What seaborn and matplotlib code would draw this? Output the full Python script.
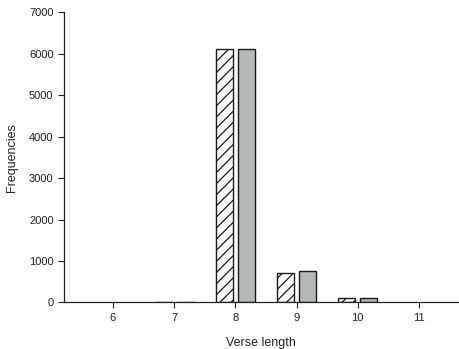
import pandas as pd
import matplotlib
matplotlib.use('Agg')
import matplotlib.pyplot as plt
import seaborn as sns

# values
verse_lengths = ['6', '7', '8', '9', '10', '11']
observed = [0, 12, 6120, 715, 110, 0]
expected = [0, 14, 6120, 745, 110, 0]

df = pd.DataFrame({
    'length': verse_lengths * 2,
    'freq': observed + expected,
    'series': ['observed'] * 6 + ['expected'] * 6,
})

sns.set_style("ticks")
plt.rcParams['font.family'] = ['Liberation Sans', 'DejaVu Sans']
plt.rcParams['hatch.linewidth'] = 0.9

fig = plt.figure(figsize=(4.59, 3.49), dpi=100)
ax = fig.add_axes([0.1394, 0.1338, 0.86, 0.8304])

sns.barplot(data=df, x='length', y='freq', hue='series',
            order=verse_lengths, hue_order=['observed', 'expected'],
            palette=['white', '#b5b8b8'], width=0.72, gap=0.22,
            edgecolor='#1a1a1a', linewidth=1.0, legend=False, ax=ax)

for bar in ax.containers[0]:
    bar.set_hatch('///')
# empty classes leave no outline
for cont in ax.containers:
    for bar in cont:
        if bar.get_height() == 0:
            bar.set_linewidth(0)

ax.set_xlim(-0.8, 5.65)
ax.set_ylim(0, 7000)
ax.set_yticks(range(0, 7001, 1000))
ax.tick_params(labelsize=8, length=4, width=0.8, colors='#222222')
sns.despine(ax=ax)
for s in ['left', 'bottom']:
    ax.spines[s].set_linewidth(0.9)
    ax.spines[s].set_color('#222222')

ax.set_xlabel('Verse length', fontsize=9, labelpad=10)
ax.set_ylabel('Frequencies', fontsize=9, labelpad=8)

fig.savefig('out.png', dpi=100)
